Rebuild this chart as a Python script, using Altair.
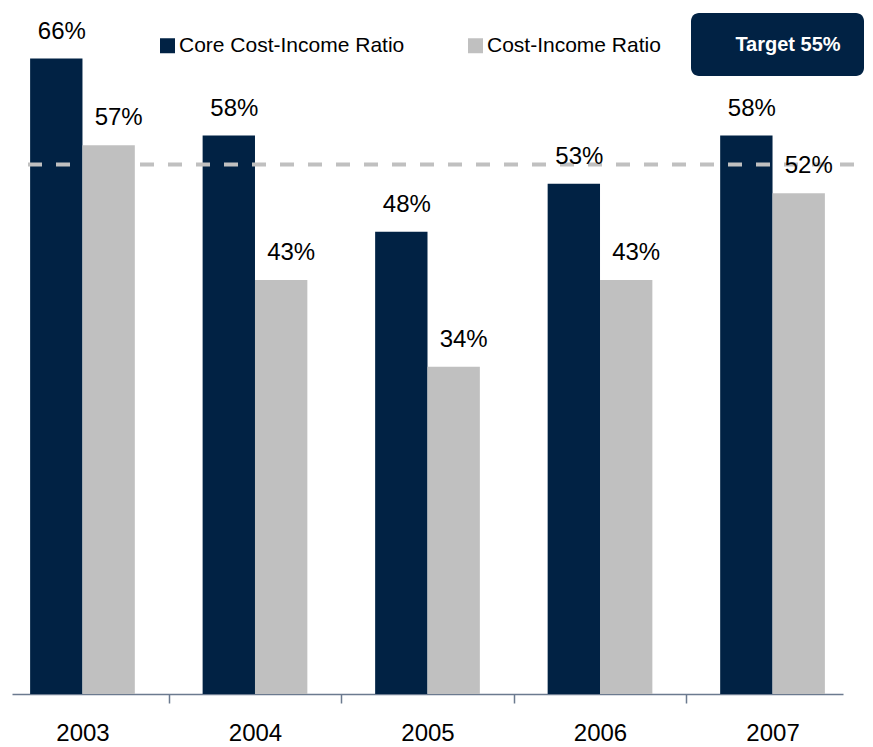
import altair as alt
import pandas as pd

# ---- data ----
years = ["2003", "2004", "2005", "2006", "2007"]
core_ratio = [66, 58, 48, 53, 58]
cost_income_ratio = [57, 43, 34, 43, 52]
series_names = ["Core Cost-Income Ratio", "Cost-Income Ratio"]
series_colors = ["#012244", "#c0c0c0"]
target_value = 55
target_text = ["Target 55%"]

rows = []
for i, yr in enumerate(years):
    rows.append({"year": yr, "series": series_names[0], "value": core_ratio[i], "label": f"{core_ratio[i]}%"})
    rows.append({"year": yr, "series": series_names[1], "value": cost_income_ratio[i], "label": f"{cost_income_ratio[i]}%"})
df = pd.DataFrame(rows)

W, H = 831, 674
FONT = "Liberation Sans"
NAVY = series_colors[0]
AXIS_COL = "#6b7a8f"
PI, PO = 0.393, 0.105
HALF_GAP = PI * (W / (5 - PI + 2 * PO)) / 2

x_enc = alt.X(
    "year:N", sort=years, title=None,
    scale=alt.Scale(paddingInner=PI, paddingOuter=PO),
    axis=alt.Axis(labelAngle=0, labelFontSize=24, labelColor="#000000", labelFont=FONT,
                  domainColor=AXIS_COL, domainWidth=1.5, tickColor=AXIS_COL, tickSize=9,
                  tickWidth=1.5, bandPosition=0, tickOffset=-HALF_GAP, labelOffset=HALF_GAP,
                  labelPadding=18, grid=False),
)
xoff_enc = alt.XOffset("series:N", sort=series_names, scale=alt.Scale(paddingInner=0, paddingOuter=0))
y_enc = alt.Y("value:Q", scale=alt.Scale(domain=[0, 70]), axis=None)

base = alt.Chart(df)

bars = base.mark_bar().encode(
    x=x_enc, xOffset=xoff_enc, y=y_enc,
    color=alt.Color(
        "series:N", sort=series_names,
        scale=alt.Scale(domain=series_names, range=series_colors),
        legend=alt.Legend(title=None, orient="none", legendX=145, legendY=15,
                          direction="horizontal", symbolType="square", symbolSize=225,
                          symbolStrokeWidth=0, labelFontSize=21, labelFont=FONT,
                          labelColor="#000000", labelLimit=400, columnPadding=60,
                          padding=0, labelOffset=1),
    ),
)

rule = alt.Chart(pd.DataFrame({"target": [target_value]})).mark_rule(
    strokeDash=[14, 14], strokeWidth=4, color="#c0c0c0"
).encode(
    y=alt.Y("target:Q", scale=alt.Scale(domain=[0, 70]), axis=None),
    x=alt.value(16), x2=alt.value(845),
)

def labels(idx, dx):
    return base.transform_filter(alt.datum.series == series_names[idx]).mark_text(
        dx=dx, dy=-20, baseline="alphabetic", fontSize=24, font=FONT, color="#000000"
    ).encode(x=x_enc, xOffset=xoff_enc, y=y_enc, text="label:N")

box_df = pd.DataFrame({"t": target_text})
box = alt.Chart(box_df).mark_rect(cornerRadius=8, color=NAVY).encode(
    x=alt.value(679), x2=alt.value(852), y=alt.value(-7), y2=alt.value(56)
)
box_text = alt.Chart(box_df).mark_text(
    fontWeight="bold", fontSize=20, font=FONT, color="white", baseline="middle", align="center"
).encode(text="t:N", x=alt.value(776), y=alt.value(25))

chart = alt.layer(bars, rule, labels(0, 5.5), labels(1, 10), box, box_text).properties(
    width=W, height=H,
    autosize=alt.AutoSizeParams(type="none"),
    padding={"left": 4, "top": 12, "right": 22, "bottom": 53},
).configure(font=FONT).configure_view(stroke="transparent", strokeWidth=0)

chart.save("out.html", embed_options={"renderer": "svg", "actions": False})
